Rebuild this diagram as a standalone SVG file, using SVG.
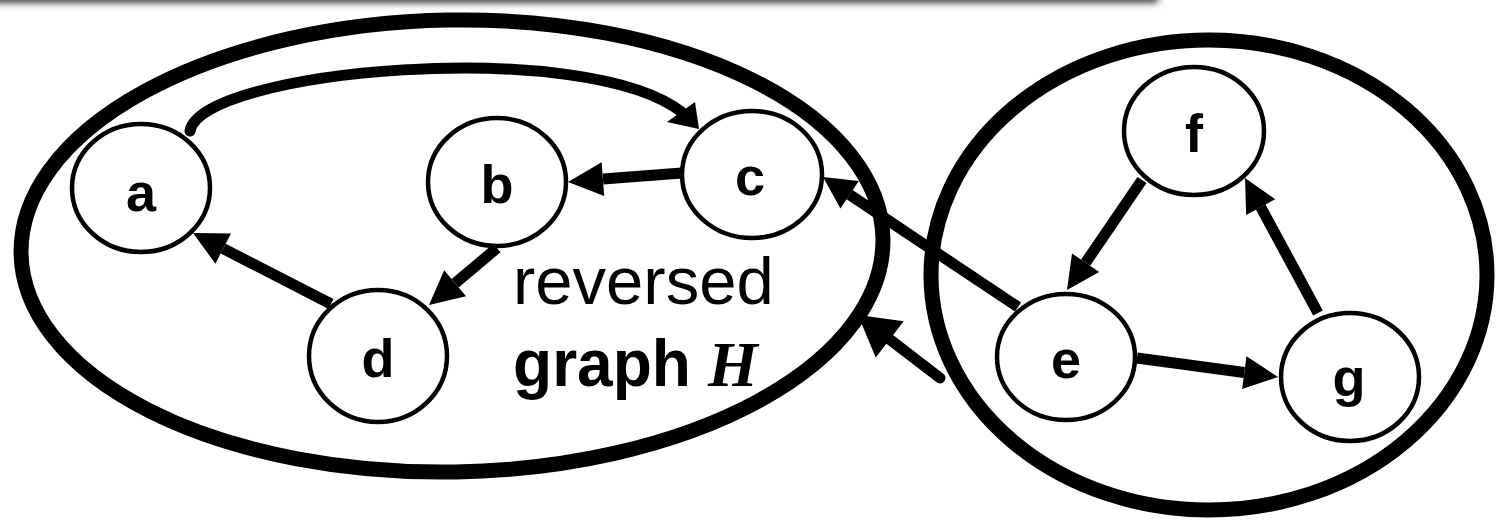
<svg xmlns="http://www.w3.org/2000/svg" width="1498" height="520" viewBox="0 0 1498 520">
<defs>
<filter id="blur" x="-0.1" y="-2" width="1.2" height="5"><feGaussianBlur stdDeviation="3.5"/></filter>
<style>
.big{fill:none;stroke:#000;stroke-width:15}
.node{fill:#fff;stroke:#000;stroke-width:4.5}
.lbl{font-family:"Liberation Sans",Arial,sans-serif;font-weight:bold;font-size:54px;text-anchor:middle;fill:#000}
.edge{fill:none;stroke:#000;stroke-width:11}
.head{fill:#000;stroke:none}
.txt{font-family:"Liberation Sans",Arial,sans-serif;font-size:67px;fill:#000}
</style>
</defs>
<rect x="0" y="0" width="1498" height="520" fill="#fff"/>
<rect x="-30" y="-40" width="1188" height="43" fill="#444" filter="url(#blur)"/>

<g id="groupH"><ellipse class="big" cx="452" cy="246" rx="431" ry="226" transform="rotate(-1 452 246)"/></g>
<g id="groupR"><ellipse class="big" cx="1209" cy="275" rx="278" ry="235"/></g>

<g id="connectors">
<path class="edge" stroke-linecap="round" d="M190,131 C200,70 585,35 683,113"/>
<polygon class="head" points="699,129 667,122 695,102"/>
<line class="edge" x1="682" y1="173" x2="603" y2="179"/>
<polygon class="head" points="568,182 604.2,196.1 601.6,162.3"/>
<line class="edge" x1="497" y1="248" x2="455.1" y2="283.2"/>
<polygon class="head" points="429,305 466,296.2 444.2,270.2"/>
<line class="edge" x1="331" y1="304" x2="223.2" y2="248.6"/>
<polygon class="head" points="193,233 231,233.5 215.4,263.7"/>
<line class="edge" x1="1018" y1="307" x2="849.6" y2="194.7"/>
<polygon class="head" points="823,177 858.8,181 840.4,208.4"/>
<line class="edge" stroke-width="17" stroke-linecap="round" x1="940" y1="378" x2="889.7" y2="339.4"/>
<polygon class="head" points="858,315 903.7,321.2 875.7,357.6"/>
<line class="edge" x1="1142" y1="180" x2="1085.6" y2="262.7"/>
<polygon class="head" points="1067,290 1099.2,272 1072,253.4"/>
<line class="edge" x1="1318" y1="313" x2="1260.7" y2="207"/>
<polygon class="head" points="1245,178 1275.2,199.2 1246.2,214.9"/>
<line class="edge" x1="1137" y1="358" x2="1244.3" y2="372.5"/>
<polygon class="head" points="1278,377 1242.1,388.9 1246.5,356.2"/>
</g>

<g id="node-a"><ellipse class="node" cx="141" cy="188" rx="69" ry="64"/><text class="lbl" x="141" y="211">a</text></g>
<g id="node-b"><ellipse class="node" cx="497" cy="182" rx="69" ry="64"/><text class="lbl" x="497" y="203">b</text></g>
<g id="node-c"><ellipse class="node" cx="752" cy="174.5" rx="70" ry="63.5"/><text class="lbl" x="750" y="195">c</text></g>
<g id="node-d"><ellipse class="node" cx="378" cy="356" rx="69" ry="66"/><text class="lbl" x="378" y="377">d</text></g>
<g id="node-e"><ellipse class="node" cx="1066" cy="357" rx="69" ry="63"/><text class="lbl" x="1066" y="378">e</text></g>
<g id="node-f"><ellipse class="node" cx="1194" cy="131" rx="70" ry="64"/><text class="lbl" x="1194" y="152">f</text></g>
<g id="node-g"><ellipse class="node" cx="1350" cy="377" rx="69" ry="64"/><text class="lbl" x="1349" y="396">g</text></g>

<g id="label">
<text class="txt" x="513" y="304">reversed</text>
<text class="txt" x="513" y="386" font-weight="bold" font-size="68px" textLength="178" lengthAdjust="spacingAndGlyphs">graph</text>
<text x="708" y="386" font-family="'Liberation Serif','Times New Roman',serif" font-style="italic" font-weight="bold" font-size="64px">H</text>
</g>
</svg>
